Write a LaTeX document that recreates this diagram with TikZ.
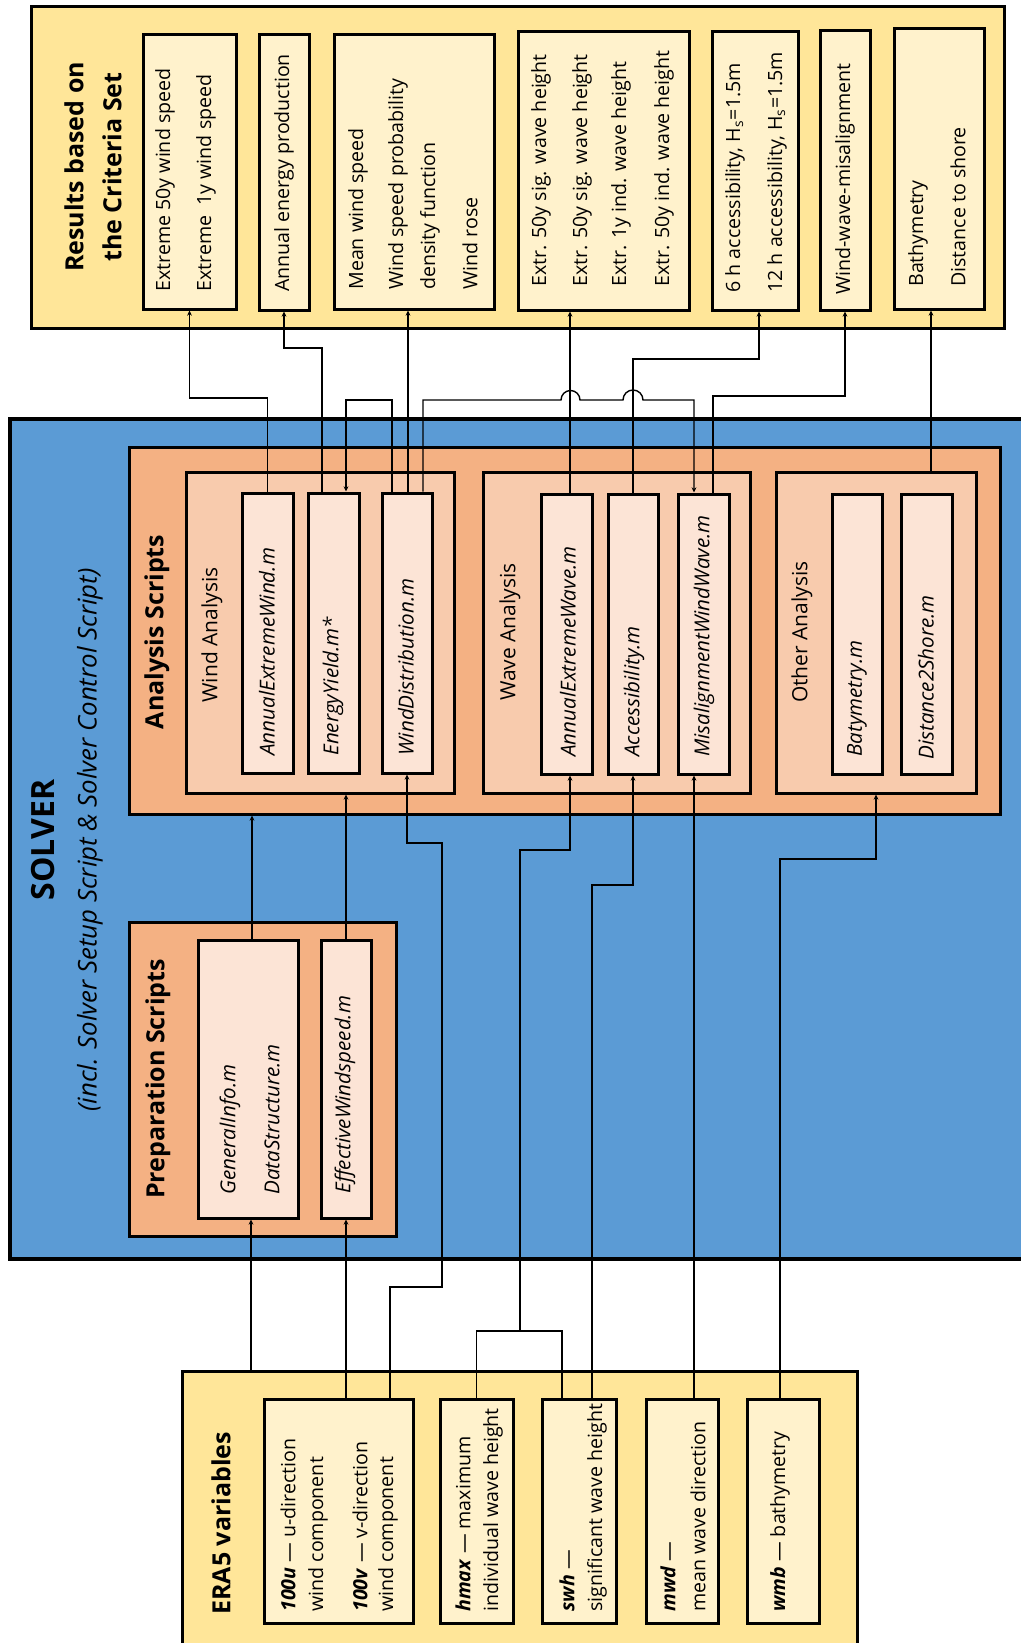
\documentclass[tikz,border=0pt]{standalone}
\usepackage{fontspec}
\setmainfont{Open Sans}
\setsansfont{Open Sans}
\usetikzlibrary{fit,arrows.meta}

\definecolor{eraYellow}{HTML}{FFE699}
\definecolor{itemYellow}{HTML}{FFF2CC}
\definecolor{solverBlue}{HTML}{5B9BD5}
\definecolor{groupOrange}{HTML}{F4B183}
\definecolor{subOrange}{HTML}{F8CBAD}
\definecolor{scriptOrange}{HTML}{FCE4D6}

\begin{document}
\begin{tikzpicture}[
    x=0.5pt, y=-0.5pt,
    every node/.style={font=\sffamily},
    >={Stealth[length=2.6pt,width=2.4pt]},
    box/.style={draw=black, line width=1.5pt, inner sep=0pt},
    yellowbox/.style={box, fill=eraYellow},
    itembox/.style={box, fill=itemYellow},
    solverbox/.style={box, fill=solverBlue, line width=1.7pt},
    groupbox/.style={box, fill=groupOrange},
    subbox/.style={box, fill=subOrange},
    scriptbox/.style={box, fill=scriptOrange},
    linetext/.style={rotate=90, anchor=west, inner sep=0pt, font=\sffamily\fontsize{9.8}{12}\selectfont},
    scripttext/.style={linetext, font=\sffamily\itshape\fontsize{10.3}{12}\selectfont},
    grouptext/.style={rotate=90, inner sep=0pt, font=\sffamily\fontsize{10.5}{12}\selectfont},
    headtext/.style={rotate=90, inner sep=0pt, align=center, font=\sffamily\bfseries\fontsize{12.5}{19}\selectfont},
    link/.style={line width=0.7pt},
]

\useasboundingbox (0,0) rectangle (1021,1643);

% === Results based on the Criteria Set ===
\node[yellowbox, fit={(31,7) (1004,328)}] (results) {};
\node[itembox, fit={(143,35) (236,309)}] (res1) {};
\node[itembox, fit={(259,35) (309,310)}] (res2) {};
\node[itembox, fit={(334,35) (494,309)}] (res3) {};
\node[itembox, fit={(518,32) (689,310)}] (res4) {};
\node[itembox, fit={(712,32) (798,310)}] (res5) {};
\node[itembox, fit={(820,31) (870,310)}] (res6) {};
\node[itembox, fit={(894,29) (984,309)}] (res7) {};

\node[headtext] (restitle) at (93,167) {Results based on\\the Criteria Set};
\node[linetext] (res1a) at (165,292) {Extreme 50y wind speed};
\node[linetext] (res1b) at (206,292) {Extreme\ \ 1y wind speed};
\node[linetext] (res2a) at (284,292) {Annual energy production};
\foreach \txt/\xx [count=\i] in {Mean wind speed/358, Wind speed probability/398, density function/430, Wind rose/470}
    \node[linetext] (res3\i) at (\xx,290) {\txt};
\foreach \txt/\xx [count=\i] in {Extr. 50y sig. wave height/541, Extr. 50y sig. wave height/582, Extr. 1y ind. wave height/621, Extr. 50y ind. wave height/664}
    \node[linetext] (res4\i) at (\xx,287) {\txt};
\node[linetext] (res5a) at (735,293) {6 h accessibility, H\textsubscript{s}=1.5m};
\node[linetext] (res5b) at (777,293) {12 h accessibility, H\textsubscript{s}=1.5m};
\node[linetext] (res6a) at (845,295) {Wind-wave-misalignment};
\node[linetext] (res7a) at (918,287) {Bathymetry};
\node[linetext] (res7b) at (958,287) {Distance to shore};

% === SOLVER ===
\node[solverbox, fit={(10,419) (1030,1259)}] (solver) {};
\node[rotate=90, inner sep=0pt, font=\sffamily\bfseries\fontsize{16}{19}\selectfont] (solvertitle) at (43,840) {SOLVER};
\node[rotate=90, inner sep=0pt, font=\sffamily\itshape\fontsize{12.9}{15}\selectfont] (solversub) at (90,840) {(incl. Solver Setup Script \& Solver Control Script)};

% Analysis scripts
\node[groupbox, fit={(129,447) (1000,814)}] (analysis) {};
\node[headtext] (anatitle) at (157,632) {Analysis Scripts};
\node[subbox, fit={(186,472) (454,793)}] (wind) {};
\node[subbox, fit={(483,472) (750,793)}] (wave) {};
\node[subbox, fit={(776,472) (976,793)}] (other) {};
\node[grouptext] (windlab) at (212,635) {Wind Analysis};
\node[grouptext] (wavelab) at (510,632) {Wave Analysis};
\node[grouptext] (otherlab) at (802,632) {Other Analysis};

\node[scriptbox, fit={(242,493) (293,773)}] (aewind) {};
\node[scriptbox, fit={(308,493) (359,773)}] (ey) {};
\node[scriptbox, fit={(382,493) (432,773)}] (wdist) {};
\node[scriptbox, fit={(541,494) (592,774)}] (aewave) {};
\node[scriptbox, fit={(608,494) (658,774)}] (acc) {};
\node[scriptbox, fit={(678,494) (729,774)}] (mis) {};
\node[scriptbox, fit={(832,494) (882,774)}] (baty) {};
\node[scriptbox, fit={(901,494) (952,774)}] (dshore) {};

\node[scripttext] (aewindt) at (267,756) {AnnualExtremeWind.m};
\node[scripttext] (eyt) at (333,756) {EnergyYield.m*};
\node[scripttext] (wdistt) at (406,756) {WindDistribution.m};
\node[scripttext] (aewavet) at (568,757) {AnnualExtremeWave.m};
\node[scripttext] (acct) at (634,757) {Accessibility.m};
\node[scripttext] (mist) at (704,757) {MisalignmentWindWave.m};
\node[scripttext] (batyt) at (857,757) {Batymetry.m};
\node[scripttext] (dshoret) at (926,760) {Distance2Shore.m};

% Preparation scripts
\node[groupbox, fit={(129,922) (396,1236)}] (prep) {};
\node[headtext] (preptitle) at (158,1079) {Preparation Scripts};
\node[scriptbox, fit={(198,940) (298,1218)}] (gi) {};
\node[scriptbox, fit={(321,940) (371,1218)}] (ews) {};
\node[scripttext] (git) at (230,1195) {GeneralInfo.m};
\node[scripttext] (dst) at (272,1195) {DataStructure.m};
\node[scripttext] (ewst) at (345,1194) {EffectiveWindspeed.m};

% === ERA5 variables ===
\node[yellowbox, fit={(182,1371) (857,1660)}] (era) {};
\node[headtext, anchor=west] (eratitle) at (221,1615) {ERA5 variables};
\node[itembox, fit={(264,1399) (413,1623)}] (uv) {};
\node[itembox, fit={(440,1399) (513,1623)}] (hmax) {};
\node[itembox, fit={(542,1399) (616,1623)}] (swh) {};
\node[itembox, fit={(646,1399) (718,1623)}] (mwd) {};
\node[itembox, fit={(747,1399) (819,1623)}] (wmb) {};

\node[linetext] (uva) at (288,1612) {\textbf{\textit{100u}} — u-direction};
\node[linetext] (uvb) at (318,1612) {wind component};
\node[linetext] (uvc) at (360,1612) {\textbf{\textit{100v}} — v-direction};
\node[linetext] (uvd) at (388,1612) {wind component};
\node[linetext] (hmaxa) at (463,1612) {\textbf{\textit{hmax}} — maximum};
\node[linetext] (hmaxb) at (493,1612) {individual wave height};
\node[linetext] (swha) at (567,1612) {\textbf{\textit{swh}} —};
\node[linetext] (swhb) at (597,1612) {significant wave height};
\node[linetext] (mwda) at (668,1612) {\textbf{\textit{mwd}} —};
\node[linetext] (mwdb) at (698,1612) {mean wave direction};
\node[linetext] (wmba) at (780,1612) {\textbf{\textit{wmb}} — bathymetry};

% === Connectors: scripts -> results ===
\draw[link, ->] (aewind.north) -- (aewind.north |- 0,398) -| (res1.south);
\draw[link, ->] (322,0 |- ey.north) -- (322,348) -| (res2.south);
\draw[link, ->] (392,0 |- wdist.north) -- (392,400) -- (346,400) -- (346,0 |- ey.north);
\draw[link, ->] (408,0 |- wdist.north) -- (408,0 |- res3.south);
\draw[link, ->] (423,0 |- wdist.north) -- (423,400) -- (561,400)
    arc[start angle=180, end angle=360, radius=9.5] -- (623,400)
    arc[start angle=180, end angle=360, radius=10] -- (694,400) -- (694,0 |- mis.north);
\draw[link, ->] (570,0 |- aewave.north) -- (570,0 |- res4.south);
\draw[link, ->] (acc.north) -- (acc.north |- 0,359) -- (759,359) -- (759,0 |- res5.south);
\draw[link, ->] (713,0 |- mis.north) -- (713,396) -| (res6.south);
\draw[link, ->] (931,0 |- other.north) -- (931,0 |- res7.south);

% === Connectors: ERA5 -> preparation / analysis ===
\draw[link, ->] (251,0 |- era.north) -- (251,0 |- gi.south);
\draw[link, ->] (252,0 |- gi.north) -- (252,0 |- analysis.south);
\draw[link, ->] (ews.south |- uv.north) -- (ews.south);
\draw[link, ->] (ews.north) -- (ews.north |- wind.south);
\draw[link, ->] (390,0 |- uv.north) -- (390,1287) -- (442,1287) -- (442,843) -- (407,843) -- (407,0 |- wdist.south);
\draw[link] (hmax.north) -- (hmax.north |- 0,1331) -- (562,1331) -- (562,0 |- swh.north);
\draw[link, ->] (520,1331) -- (520,850) -- (570,850) -- (570,0 |- aewave.south);
\draw[link, ->] (592,0 |- swh.north) -- (592,885) -| (acc.south);
\draw[link, ->] (694,0 |- mwd.north) -- (694,0 |- mis.south);
\draw[link, ->] (780,0 |- wmb.north) -- (780,859) -| (other.south);

\end{tikzpicture}
\end{document}
